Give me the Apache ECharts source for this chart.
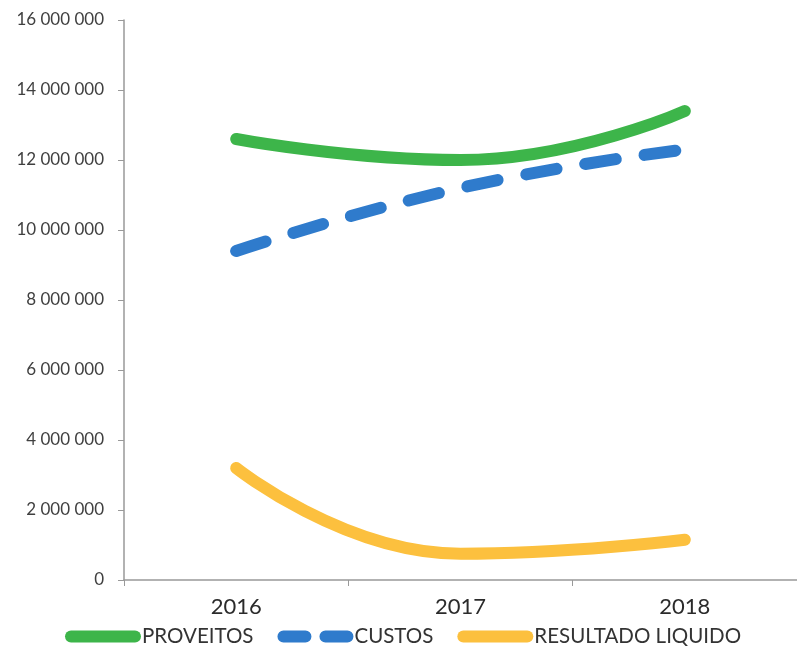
<!DOCTYPE html>
<html>
<head>
<meta charset="utf-8">
<script src="https://cdn.jsdelivr.net/npm/echarts@6/dist/echarts.min.js"></script>
<style>
  html, body { margin: 0; padding: 0; background: #fff; }
  #container { width: 797px; height: 649px; }
</style>
</head>
<body>
<div id="container"></div>
<script>
let dom = document.getElementById("container");
let myChart = echarts.init(dom);

const years = ['2016', '2017', '2018'];
const proveitos = [12600000, 12000000, 13400000];
const custos = [9400000, 11200000, 12300000];
const resultado = [3200000, 750000, 1150000];

const font = 'Lato, "Open Sans", sans-serif';

function fmt(v) {
    return String(v).replace(/\B(?=(\d{3})+(?!\d))/g, ' ');
}

let option = {
    animation: false,
    textStyle: { fontFamily: font },
    grid: { left: 124, right: -8, top: 20, bottom: 69 },
    legend: {
        bottom: -3,
        left: 60,
        itemWidth: 64,
        itemHeight: 12,
        itemGap: 24,
        itemStyle: { opacity: 0 },
        lineStyle: { width: 12, cap: 'round' },
        textStyle: { fontSize: 20.5, color: '#333', fontFamily: font, padding: [0, 0, 0, 2] },
        data: [
            'PROVEITOS',
            { name: 'CUSTOS', lineStyle: { type: [22, 20] } },
            'RESULTADO LIQUIDO'
        ]
    },
    xAxis: {
        type: 'category',
        data: years,
        axisLine: { lineStyle: { color: '#999', width: 1.5 } },
        axisTick: { show: true, length: 6, lineStyle: { color: '#999' } },
        axisLabel: { fontSize: 22, color: '#2b2b2b', margin: 16, fontFamily: font }
    },
    yAxis: {
        type: 'value',
        min: 0,
        max: 16000000,
        interval: 2000000,
        splitLine: { show: false },
        axisLine: { show: true, lineStyle: { color: '#999', width: 1.5 } },
        axisTick: { show: true, length: 6, inside: false, lineStyle: { color: '#999' } },
        axisLabel: {
            fontSize: 17, color: '#404040', margin: 20, fontFamily: font,
            formatter: fmt
        }
    },
    series: [
        {
            name: 'PROVEITOS',
            type: 'line',
            smooth: 0.5,
            symbol: 'none',
            data: proveitos,
            itemStyle: { color: '#3db54a' },
            lineStyle: { color: '#3db54a', width: 12, cap: 'round' }
        },
        {
            name: 'CUSTOS',
            type: 'line',
            smooth: 0.5,
            symbol: 'none',
            data: custos,
            itemStyle: { color: '#2f7bcc' },
            lineStyle: { color: '#2f7bcc', width: 12, cap: 'round', type: [31, 29] }
        },
        {
            name: 'RESULTADO LIQUIDO',
            type: 'line',
            smooth: 0.5,
            symbol: 'none',
            data: resultado,
            itemStyle: { color: '#fcc03e' },
            lineStyle: { color: '#fcc03e', width: 12, cap: 'round' }
        }
    ]
};

myChart.setOption(option, true);
</script>
</body>
</html>
